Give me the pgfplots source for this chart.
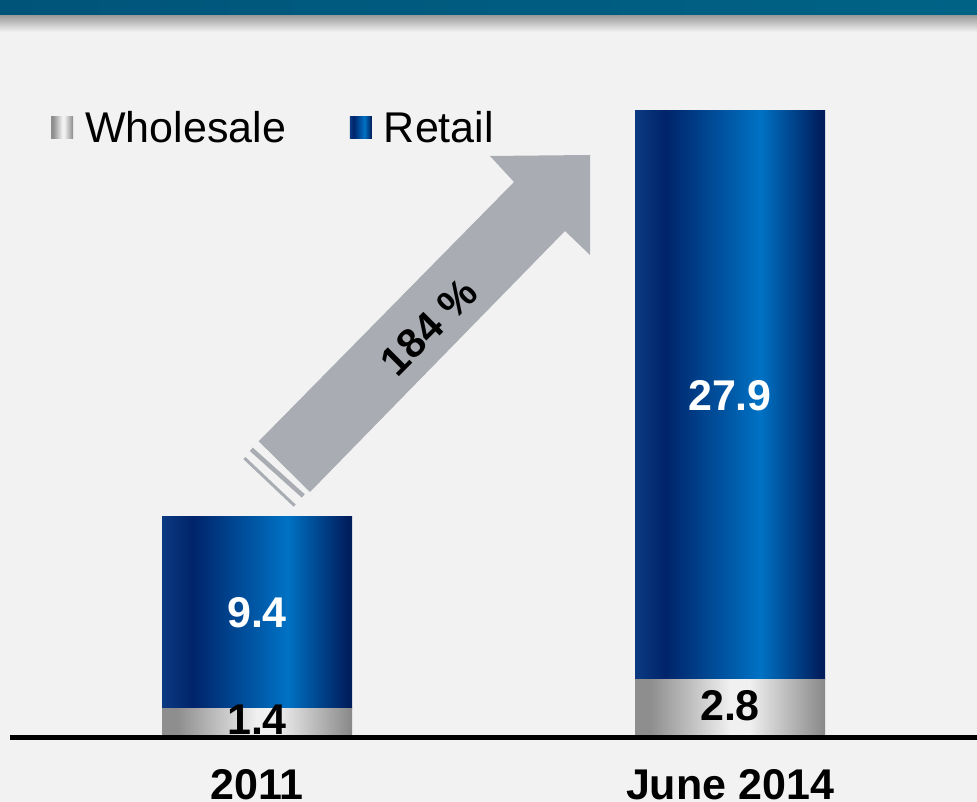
\documentclass[border=0pt]{standalone}
\usepackage{pgfplots}
\pgfplotsset{compat=1.18}
\usepackage{fontspec}
\setmainfont{Liberation Sans}

\definecolor{bgcol}{HTML}{F2F2F2}
\definecolor{arrowgray}{HTML}{A9ADB3}
\definecolor{bannerL}{HTML}{00547A}
\definecolor{bannerR}{HTML}{006386}
% bar gradients (left edge -> right edge)
\definecolor{rEdge}{HTML}{0B3A82}
\definecolor{rDark}{HTML}{00246A}
\definecolor{rBright}{HTML}{0072C4}
\definecolor{rRight}{HTML}{001D5C}
\definecolor{gL}{HTML}{8E8E8E}
\definecolor{gPeak}{HTML}{F0F0F0}
\definecolor{gR}{HTML}{888888}

\pgfdeclarehorizontalshading{retailshade}{100bp}{%
  color(0bp)=(rEdge); color(25bp)=(rEdge); color(33bp)=(rDark);
  color(58bp)=(rBright); color(74bp)=(rRight); color(100bp)=(rRight)}
\pgfdeclarehorizontalshading{wholeshade}{100bp}{%
  color(0bp)=(gL); color(25bp)=(gL); color(29bp)=(gL);
  color(50bp)=(gPeak); color(55bp)=(gPeak); color(75bp)=(gR); color(100bp)=(gR)}

\newcommand{\bigfont}{\fontsize{43bp}{48bp}\selectfont}

% both axes share the same frame, one per category so each bar gets its own shading
\pgfplotsset{
  frame/.style={
    at={(0,0)}, anchor=south west,
    x=473bp, y=20.4bp,
    xmin=-0.54334, xmax=1.52220,
    ymin=-3.1863, ymax=36.1275,
    ybar stacked, bar width=190bp,
    clip=false,
    axis line style={draw=none},
    major tick length=0pt,
    ytick=\empty,
    visualization depends on={rawy \as \rawy},
    every node near coord/.append style={anchor=center, font=\bfseries\bigfont},
  },
  sq legend/.style={legend image code/.code={\fill[##1] (0bp,-11bp) rectangle (22bp,11bp);}},
  whole/.style={draw=none, shade, shading=wholeshade, sq legend,
    nodes near coords={\pgfmathprintnumber[assume math mode=true]{\rawy}},
    every node near coord/.append style={text=black, yshift=3bp}},
  retail/.style={draw=none, shade, shading=retailshade, sq legend,
    nodes near coords={\pgfmathprintnumber[assume math mode=true]{\rawy}},
    every node near coord/.append style={text=white}},
}

\begin{document}
\begin{tikzpicture}
\path[use as bounding box, fill=bgcol] (0,0) rectangle (977bp,802bp);
% title banner and its shadow
\shade[left color=bannerL, right color=bannerR] (0,786bp) rectangle (977bp,802bp);
\shade[top color=black!38, bottom color=bgcol] (0,770bp) rectangle (977bp,786bp);

\begin{axis}[
  frame,
  xtick={0,1},
  xticklabels={2011,June 2014},
  xticklabel style={font=\bfseries\bigfont, anchor=base, yshift=3bp},
  legend columns=2,
  legend style={at={(0.0522,0.8404)}, anchor=west, draw=none, fill=none,
    inner sep=0pt, font=\bigfont, nodes={inner sep=0pt},
    /tikz/every odd column/.append style={column sep=12bp},
    /tikz/every even column/.append style={column sep=64bp}},
]
\addplot[whole] coordinates {(0,1.4)};
\addplot[retail] coordinates {(0,9.4)};
\legend{Wholesale, Retail}
\end{axis}

\begin{axis}[frame, xtick=\empty]
\addplot[whole] coordinates {(1,2.8)};
\addplot[retail] coordinates {(1,27.9)};
\end{axis}

% pixel coordinates (y downward) for the growth arrow and base line
\begin{scope}[x=1bp, y=-1bp, shift={(0,802bp)}]
\fill[arrowgray] (258.7,441.3) -- (514,182) -- (490,156) -- (590,155)
  -- (590,255) -- (565,231) -- (310,492) -- cycle;
\draw[arrowgray, line width=4.5bp] (251.3,449.3) -- (303.3,496);
\draw[arrowgray, line width=3bp] (244.3,458) -- (294.7,505.7);
\node[rotate=45, font=\bfseries\fontsize{41bp}{44bp}\selectfont] at (429,327) {184 \%};
\draw[black, line width=5.5bp] (10,737.5) -- (977,737.5);
\end{scope}
\end{tikzpicture}
\end{document}
